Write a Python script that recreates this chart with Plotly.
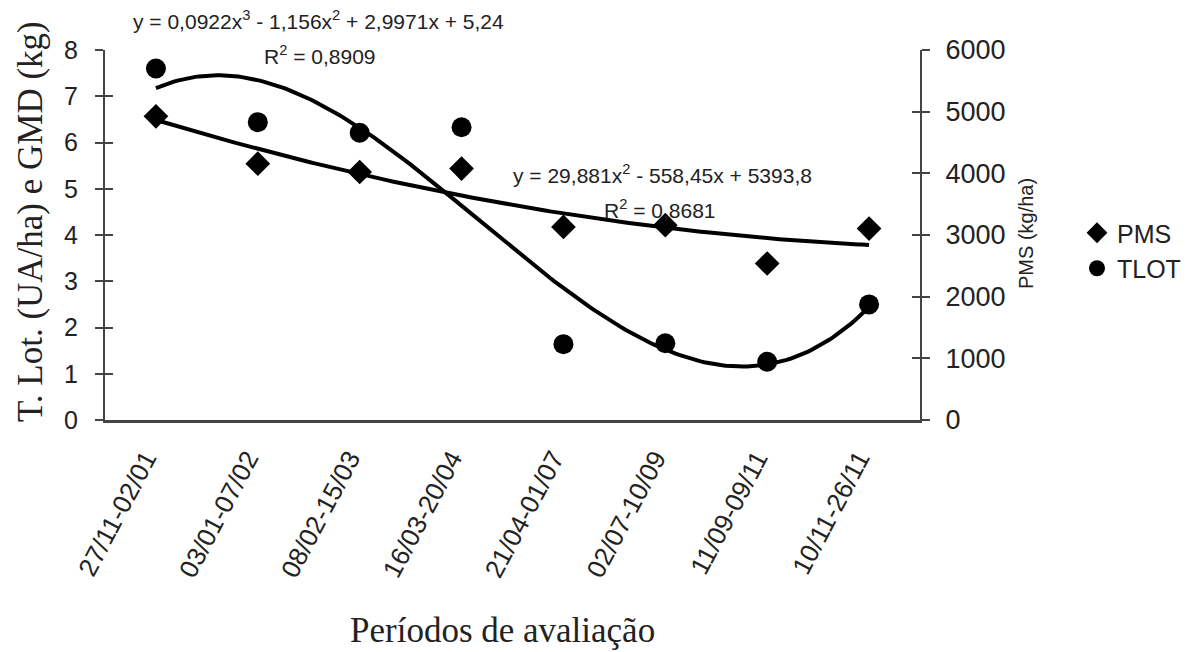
import numpy as np
import plotly.graph_objects as go

periods = ["27/11-02/01", "03/01-07/02", "08/02-15/03", "16/03-20/04",
           "21/04-01/07", "02/07-10/09", "11/09-09/11", "10/11-26/11"]
x_idx = [1, 2, 3, 4, 5, 6, 7, 8]

pms = [4925, 4157, 4022, 4077, 3131, 3159, 2538, 3105]        # kg/ha (right axis)
tlot = [7.60, 6.44, 6.21, 6.33, 1.64, 1.66, 1.26, 2.50]         # UA/ha (left axis)

# Trendline coefficients printed on the chart (highest power first)
tlot_coef = [0.0922, -1.156, 2.9971, 5.24]
pms_coef = [29.881, -558.45, 5393.8]

tlot_eq = "y = 0,0922x<sup>3</sup> - 1,156x<sup>2</sup> + 2,9971x + 5,24"
tlot_r2 = "R<sup>2</sup> = 0,8909"
pms_eq = "y = 29,881x<sup>2</sup> - 558,45x + 5393,8"
pms_r2 = "R<sup>2</sup> = 0,8681"

xs = np.linspace(1, 8, 200)
tlot_fit = np.polyval(tlot_coef, xs)
pms_fit = np.polyval(pms_coef, xs)

SANS = "Liberation Sans, Arial, sans-serif"
SERIF = "Liberation Serif, Times New Roman, serif"
TXT = "#222222"
AX = "#444444"

# The page body has an 8px default margin; the figure is sized to fit the window.
OFF = 8
W, H = 1192 - OFF, 652 - OFF
PL, PR, PT, PB = 105, 920, 50, 420   # plot area in window pixels

fig = go.Figure()
fig.add_trace(go.Scatter(x=x_idx, y=pms, mode="markers", name="PMS", yaxis="y2",
                         marker=dict(symbol="diamond", size=19, color="black")))
fig.add_trace(go.Scatter(x=x_idx, y=tlot, mode="markers", name="TLOT",
                         marker=dict(symbol="circle", size=20, color="black")))
fig.add_trace(go.Scatter(x=xs, y=pms_fit, mode="lines", yaxis="y2", showlegend=False,
                         line=dict(color="black", width=4), hoverinfo="skip"))
fig.add_trace(go.Scatter(x=xs, y=tlot_fit, mode="lines", showlegend=False,
                         line=dict(color="black", width=4), hoverinfo="skip"))
fig.add_trace(go.Scatter(x=[None], y=[None], yaxis="y3", showlegend=False))
fig.add_trace(go.Scatter(x=[None], y=[None], yaxis="y4", showlegend=False))

fig.update_layout(
    width=W, height=H,
    paper_bgcolor="white", plot_bgcolor="white",
    margin=dict(l=PL - OFF, r=1192 - PR, t=PT - OFF, b=652 - PB, autoexpand=False),
    font=dict(family=SANS, color=TXT),
    xaxis=dict(range=[0.5, 8.5], tickmode="array", tickvals=x_idx, ticktext=periods,
               tickangle=-62, tickfont=dict(size=26, family=SANS, color=TXT),
               ticklabelstandoff=10, ticklabelshift=-10,
               showgrid=False, zeroline=False, showline=True, linecolor=AX, linewidth=3,
               ticks="", automargin=False),
    yaxis=dict(range=[0, 8], dtick=1, showgrid=False, zeroline=False,
               showline=True, linecolor=AX, linewidth=2,
               ticks="outside", ticklen=8, tickwidth=2, tickcolor=AX, automargin=False,
               tickfont=dict(size=25, family=SANS, color=TXT), ticklabelstandoff=12),
    yaxis2=dict(range=[0, 6000], dtick=1000, overlaying="y", side="right",
                showgrid=False, zeroline=False, showline=True, linecolor=AX, linewidth=2,
                ticks="outside", ticklen=8, tickwidth=2, tickcolor=AX, automargin=False,
                tickfont=dict(size=27, family=SANS, color=TXT), ticklabelstandoff=10),
    yaxis3=dict(range=[0, 8], dtick=1, overlaying="y", side="left", showgrid=False,
                zeroline=False, showline=False, ticks="inside", ticklen=8, tickwidth=2,
                tickcolor=AX, showticklabels=False),
    yaxis4=dict(range=[0, 6000], dtick=1000, overlaying="y", side="right", showgrid=False,
                zeroline=False, showline=False, ticks="inside", ticklen=8, tickwidth=2,
                tickcolor=AX, showticklabels=False),
    legend=dict(x=(1077 - PL) / (PR - PL), y=(PB - 210) / (PB - PT),
                xanchor="left", yanchor="top",
                font=dict(size=25, family=SANS, color=TXT), bgcolor="rgba(0,0,0,0)",
                itemwidth=30, tracegroupgap=0),
    showlegend=True,
)


def px(xp):
    return (xp - PL) / (PR - PL)


def py(yp):
    return (PB - yp) / (PB - PT)


annos = [
    dict(text=tlot_eq, x=318, y=20, size=21),
    dict(text=tlot_r2, x=320, y=55, size=21),
    dict(text=pms_eq, x=662, y=174, size=21),
    dict(text=pms_r2, x=660, y=209, size=21),
]
for a in annos:
    fig.add_annotation(text=a["text"], xref="paper", yref="paper",
                       x=px(a["x"]), y=py(a["y"]),
                       showarrow=False, xanchor="center", yanchor="middle",
                       font=dict(size=a["size"], family=SANS, color=TXT))

# axis titles
fig.add_annotation(text="T. Lot. (UA/ha) e GMD (kg)", xref="paper", yref="paper",
                   x=px(30), y=py(222), textangle=-90,
                   showarrow=False, xanchor="center", yanchor="middle",
                   font=dict(size=35, family=SERIF, color=TXT))
fig.add_annotation(text="PMS (kg/ha)", xref="paper", yref="paper",
                   x=px(1026), y=py(233), textangle=-90,
                   showarrow=False, xanchor="center", yanchor="middle",
                   font=dict(size=20, family=SANS, color=TXT))
fig.add_annotation(text="Períodos de avaliação", xref="paper", yref="paper",
                   x=px(502), y=py(630),
                   showarrow=False, xanchor="center", yanchor="middle",
                   font=dict(size=35, family=SERIF, color=TXT))

fig.write_html("out.html")
